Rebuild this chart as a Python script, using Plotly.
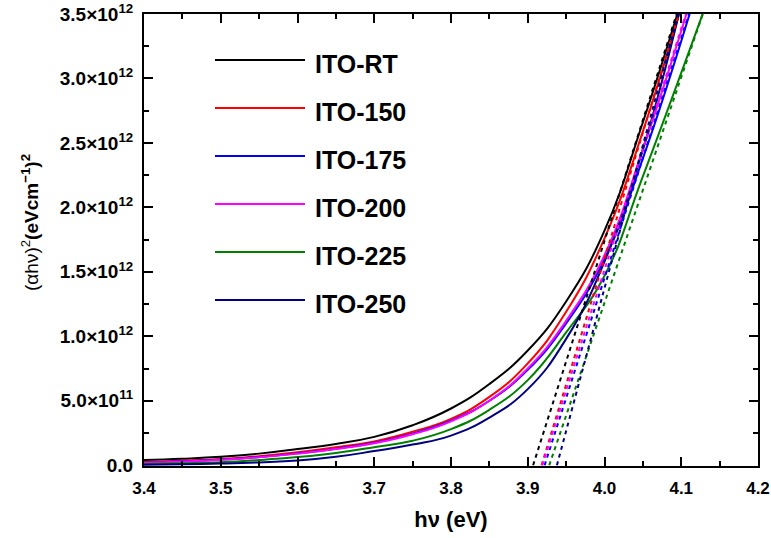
import plotly.graph_objects as go

# Absorption edge data: (alpha*h*nu)^2 vs photon energy, in units of 1e12
samples = ["ITO-RT", "ITO-150", "ITO-175", "ITO-200", "ITO-225", "ITO-250"]
colors = ["#000000", "#FF0000", "#0000FF", "#FF00FF", "#008000", "#000080"]

energy_grid = [3.40, 3.45, 3.50, 3.55, 3.60, 3.65, 3.70, 3.75, 3.80, 3.85, 3.90, 3.95, 4.00, 4.05]

ito_rt_y = [0.040, 0.050, 0.065, 0.090, 0.125, 0.165, 0.220, 0.310, 0.440, 0.630, 0.890, 1.270, 1.820, 2.660]
ito_150_y = [0.025, 0.035, 0.048, 0.070, 0.100, 0.140, 0.185, 0.260, 0.360, 0.530, 0.790, 1.190, 1.760, 2.590]
ito_175_y = [0.020, 0.030, 0.044, 0.064, 0.092, 0.128, 0.175, 0.245, 0.345, 0.500, 0.740, 1.100, 1.600, 2.380]
ito_200_y = [0.018, 0.028, 0.042, 0.062, 0.090, 0.125, 0.170, 0.240, 0.340, 0.500, 0.750, 1.120, 1.630, 2.450]
ito_225_y = [0.010, 0.015, 0.023, 0.040, 0.063, 0.095, 0.140, 0.190, 0.280, 0.430, 0.660, 1.030, 1.470, 2.240]
ito_250_y = [0.003, 0.007, 0.013, 0.022, 0.036, 0.065, 0.110, 0.160, 0.230, 0.370, 0.590, 0.980, 1.580, 2.450]

# Upper end of each measured curve (energy where it reaches 3.6e12)
upper_energy = [4.100, 4.102, 4.116, 4.112, 4.134, 4.101]
upper_value = 3.6

# Linear fits of the absorption edge: x-intercept (band gap) and energy at 3.5e12
band_gap = [3.907, 3.918, 3.922, 3.919, 3.928, 3.938]
fit_top_energy = [4.094, 4.097, 4.110, 4.106, 4.128, 4.096]
fit_top_value = 3.5

series_y = [ito_rt_y, ito_150_y, ito_175_y, ito_200_y, ito_225_y, ito_250_y]

SCALE = 1e12
FONT = "Liberation Sans, Arial, sans-serif"

fig = go.Figure()

for name, col, ys, xe in zip(samples, colors, series_y, upper_energy):
    xs = energy_grid + [xe]
    yv = [v * SCALE for v in ys] + [upper_value * SCALE]
    fig.add_trace(go.Scatter(
        x=xs, y=yv, mode="lines", name=name,
        line=dict(color=col, width=2, shape="spline", smoothing=1.3),
        showlegend=False,
    ))

for name, col, eg, xt in zip(samples, colors, band_gap, fit_top_energy):
    fig.add_trace(go.Scatter(
        x=[eg, xt], y=[0, fit_top_value * SCALE], mode="lines",
        line=dict(color=col, width=2, dash="4px,4px"),
        showlegend=False, hoverinfo="skip",
    ))

# Plot-area geometry (pixels) used for the hand-placed legend
L, R, T, B = 144, 758, 14, 466
W, H = 771, 538


def px_x(p):
    return (p - L) / (R - L)


def px_y(p):
    return (B - p) / (B - T)


legend_rows = [60, 108, 156, 204, 252, 300]
shapes = []
annotations = []
for name, col, yrow in zip(samples, colors, legend_rows):
    shapes.append(dict(type="line", xref="paper", yref="paper",
                       x0=px_x(215), x1=px_x(305), y0=px_y(yrow), y1=px_y(yrow),
                       line=dict(color=col, width=2)))
    annotations.append(dict(xref="paper", yref="paper", x=px_x(313), y=px_y(yrow + 4),
                            text="<b>%s</b>" % name, showarrow=False,
                            xanchor="left", yanchor="middle",
                            font=dict(family=FONT, size=25, color="black")))

annotations.append(dict(
    xref="paper", yref="paper", x=px_x(30), y=px_y(223),
    text="(αhν)<sup>2</sup><b>(eVcm<sup>−1</sup>)<sup>2</sup></b>",
    textangle=-90, showarrow=False, xanchor="center", yanchor="middle",
    font=dict(family=FONT, size=19, color="black"),
))

y_tick_vals = [0.0, 0.5, 1.0, 1.5, 2.0, 2.5, 3.0, 3.5]
y_tick_text = ["0.0", "5.0×10<sup>11</sup>", "1.0×10<sup>12</sup>", "1.5×10<sup>12</sup>",
               "2.0×10<sup>12</sup>", "2.5×10<sup>12</sup>", "3.0×10<sup>12</sup>",
               "3.5×10<sup>12</sup>"]
y_minor_vals = [0.25, 0.75, 1.25, 1.75, 2.25, 2.75, 3.25]

fig.update_layout(
    width=W, height=H,
    margin=dict(l=L, r=W - R, t=T, b=H - B),
    paper_bgcolor="white", plot_bgcolor="white",
    font=dict(family=FONT, color="black"),
    shapes=shapes, annotations=annotations,
    xaxis=dict(
        range=[3.4, 4.2], tick0=3.4, dtick=0.1, tickformat=".1f",
        ticks="inside", ticklen=9, tickwidth=2, tickcolor="black",
        showline=True, linewidth=2, linecolor="black", mirror="ticks",
        showgrid=False, zeroline=False, automargin=False,
        minor=dict(ticks="inside", ticklen=5, tickwidth=2, tickcolor="black",
                   tick0=3.4, dtick=0.05),
        tickfont=dict(family=FONT, size=17, weight="bold"),
        ticklabelstandoff=6, ticklabeloverflow="allow",
        title=dict(text="<b>hν (eV)</b>", font=dict(family=FONT, size=22), standoff=14),
    ),
    yaxis=dict(
        range=[-0.006 * SCALE, 3.5 * SCALE],
        tickmode="array", tickvals=[v * SCALE for v in y_tick_vals],
        ticktext=["<b>%s</b>" % t for t in y_tick_text],
        ticks="inside", ticklen=9, tickwidth=2, tickcolor="black",
        showline=True, linewidth=2, linecolor="black", mirror="ticks",
        showgrid=False, zeroline=False, automargin=False,
        minor=dict(ticks="inside", ticklen=5, tickwidth=2, tickcolor="black",
                   tickvals=[v * SCALE for v in y_minor_vals]),
        tickfont=dict(family=FONT, size=19, weight="bold"),
        ticklabelstandoff=5, ticklabeloverflow="allow",
    ),
)

fig.write_html("out.html")
